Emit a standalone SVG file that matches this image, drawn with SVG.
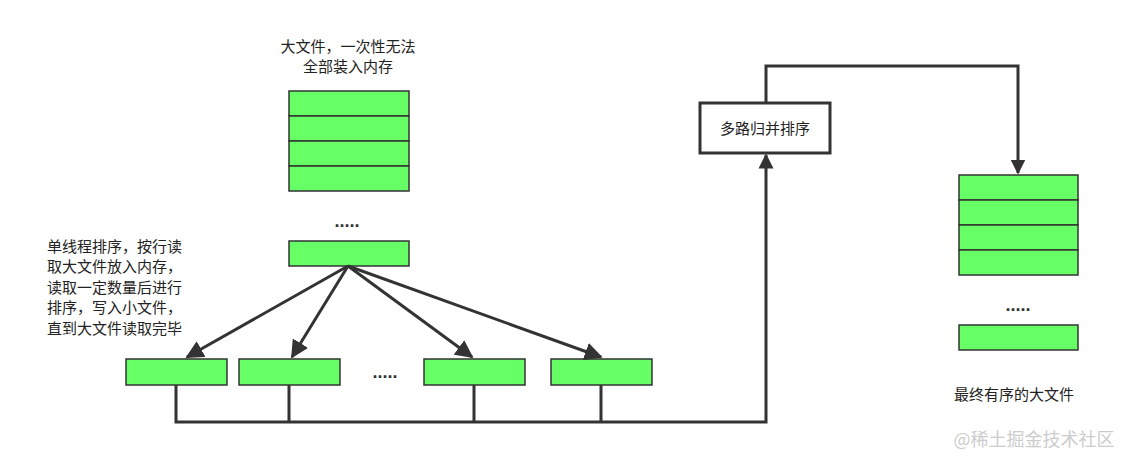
<svg xmlns="http://www.w3.org/2000/svg" width="1129" height="467" viewBox="0 0 1129 467">
<style>
.g{fill:#66ff66;stroke:#333;stroke-width:1.5}
.t{font-family:"Noto Sans CJK SC",sans-serif;font-size:15px;fill:#222}
.c{fill:none;stroke:#333;stroke-width:3}
.d{font-family:"Liberation Sans",sans-serif;font-size:18px;font-weight:bold;fill:#333;text-anchor:middle}
</style>
<defs><marker id="a" viewBox="0 0 10 10" refX="9" refY="5" markerWidth="6" markerHeight="6" orient="auto" markerUnits="strokeWidth"><path d="M0,0L10,5L0,10z" fill="#333"/></marker>
<marker id="b" viewBox="0 0 10 10" refX="9" refY="5" markerWidth="5" markerHeight="6" orient="auto" markerUnits="strokeWidth"><path d="M0,0L10,5L0,10z" fill="#333"/></marker></defs>
<rect width="1129" height="467" fill="#fff"/>
<g id="bigfile">
<text class="t" x="348" y="52" text-anchor="middle">大文件，一次性无法</text>
<text class="t" x="348" y="72" text-anchor="middle">全部装入内存</text>
<rect class="g" x="289" y="91" width="120" height="25"/><rect class="g" x="289" y="116" width="120" height="25"/><rect class="g" x="289" y="141" width="120" height="25"/><rect class="g" x="289" y="166" width="120" height="25"/>
<text class="d" x="347" y="227">.....</text>
<rect class="g" x="289" y="241" width="120" height="25"/>
</g>
<g id="desc">
<text class="t" x="47" y="252">单线程排序，按行读</text>
<text class="t" x="47" y="272">取大文件放入内存，</text>
<text class="t" x="47" y="293">读取一定数量后进行</text>
<text class="t" x="47" y="313">排序，写入小文件，</text>
<text class="t" x="47" y="334">直到大文件读取完毕</text>
</g>
<g id="s1"><rect class="g" x="126" y="359" width="101" height="26"/></g>
<g id="s2"><rect class="g" x="239" y="359" width="101" height="26"/></g>
<text class="d" x="385" y="378">.....</text>
<g id="s3"><rect class="g" x="424" y="359" width="101" height="26"/></g>
<g id="s4"><rect class="g" x="551" y="359" width="101" height="26"/></g>
<g id="merge"><rect x="700" y="103" width="130" height="50" fill="#fff" stroke="#333" stroke-width="3"/>
<text class="t" x="765" y="134" text-anchor="middle">多路归并排序</text></g>
<g id="result">
<rect class="g" x="959" y="175" width="119" height="25"/><rect class="g" x="959" y="200" width="119" height="25"/><rect class="g" x="959" y="225" width="119" height="25"/><rect class="g" x="959" y="250" width="119" height="25"/>
<text class="d" x="1018" y="311">.....</text>
<rect class="g" x="959" y="325" width="119" height="25"/>
<text class="t" x="1014" y="400" text-anchor="middle">最终有序的大文件</text>
</g>
<g id="connectors">
<path class="c" d="M348,266L187,357" marker-end="url(#a)"/>
<path class="c" d="M348,266L292,357" marker-end="url(#a)"/>
<path class="c" d="M348,266L472,357" marker-end="url(#a)"/>
<path class="c" d="M348,266L601,357" marker-end="url(#a)"/>
<path class="c" d="M176,385V422H766V155" marker-end="url(#b)"/>
<path class="c" d="M289,385V422M474,385V422M601,385V422"/>
<path class="c" d="M766,103V66H1018V173" marker-end="url(#b)"/>
</g>
<text x="1034" y="446" text-anchor="middle" font-family="Noto Sans CJK SC,sans-serif" font-size="18" fill="#ccc">@稀土掘金技术社区</text>
</svg>
